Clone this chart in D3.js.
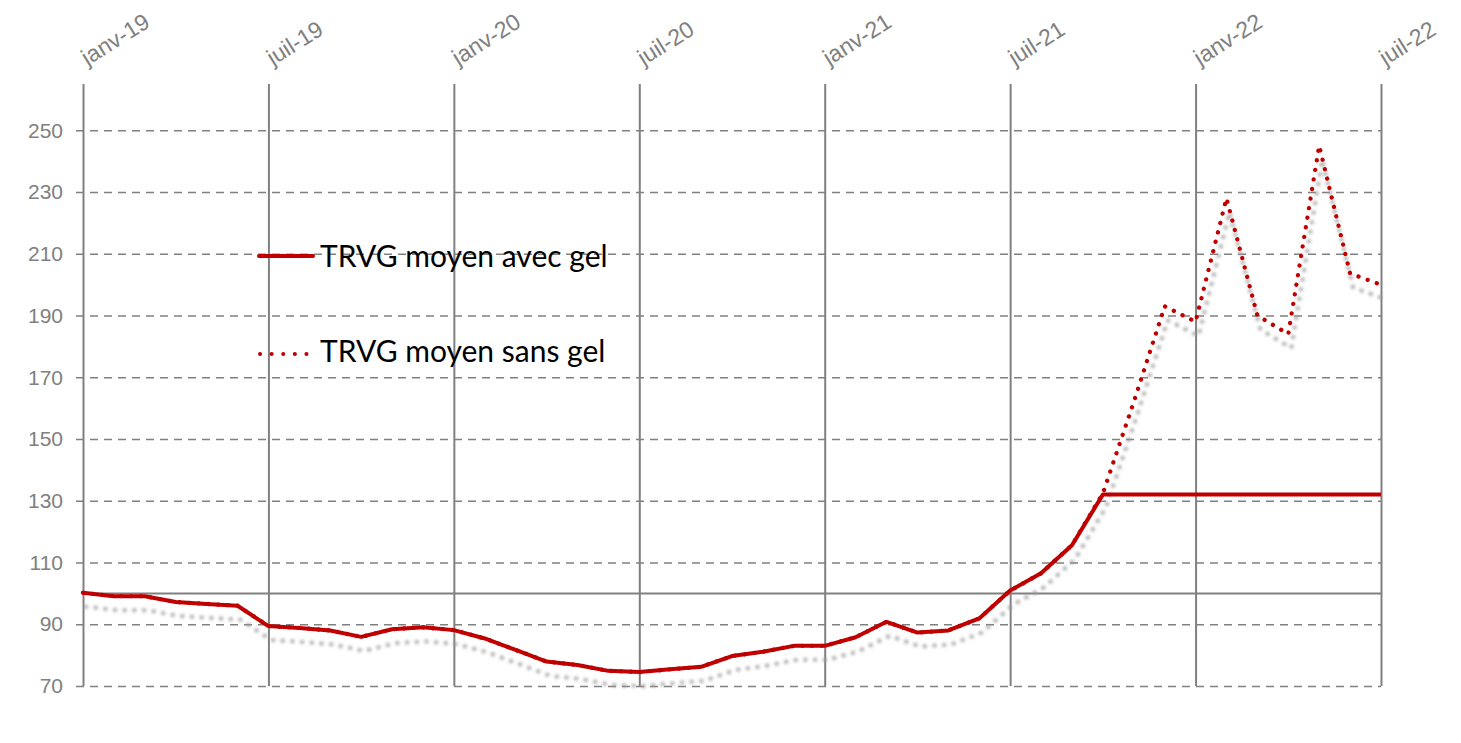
<!DOCTYPE html>
<html><head><meta charset="utf-8">
<script src="https://cdn.jsdelivr.net/npm/d3@7"></script>
<style>
html,body{margin:0;padding:0;background:#fff;}
svg{display:block;}
</style></head>
<body>
<svg id="c" width="1461" height="743"></svg>
<script>
// ---- data ----
const months = ["janv-19","févr-19","mars-19","avr-19","mai-19","juin-19","juil-19","août-19","sept-19","oct-19","nov-19","déc-19",
"janv-20","févr-20","mars-20","avr-20","mai-20","juin-20","juil-20","août-20","sept-20","oct-20","nov-20","déc-20",
"janv-21","févr-21","mars-21","avr-21","mai-21","juin-21","juil-21","août-21","sept-21","oct-21","nov-21","déc-21",
"janv-22","févr-22","mars-22","avr-22","mai-22","juin-22","juil-22"];
const avecGel = [100.2,99.1,99.1,97.2,96.6,96.0,89.4,88.8,88.0,85.9,88.4,89.0,
88.1,85.4,81.7,77.9,76.8,74.9,74.5,75.4,76.2,79.7,81.1,83.0,
83.0,85.8,90.8,87.3,88.0,91.9,100.9,106.5,115.6,132.0,132.0,132.0,
132.0,132.0,132.0,132.0,132.0,132.0,132.0];
const sansGel = [100.2,99.1,99.1,97.2,96.6,96.0,89.4,88.8,88.0,85.9,88.4,89.0,
88.1,85.4,81.7,77.9,76.8,74.9,74.5,75.4,76.2,79.7,81.1,83.0,
83.0,85.8,90.8,87.3,88.0,91.9,100.9,106.5,115.6,132.4,162.0,193.0,
188.0,228.0,190.0,184.0,245.0,203.6,200.0];
const xTickLabels = ["janv-19","juil-19","janv-20","juil-20","janv-21","juil-21","janv-22","juil-22"];
const yTicks = [70,90,110,130,150,170,190,210,230,250];
const seriesNames = ["TRVG moyen avec gel","TRVG moyen sans gel"];

// ---- layout ----
const svg = d3.select("#c");
const pL = 83, pR = 1381, pT = 84, pB = 686;
const x = d3.scaleLinear().domain([0, months.length - 1]).range([pL, pR]);
const y = d3.scaleLinear().domain([70, 265]).range([pB, pT]);
const grey = "#808080", red = "#C00000";

const defs = svg.append("defs");
const f = defs.append("filter").attr("id","shadow").attr("x","-5%").attr("y","-5%").attr("width","110%").attr("height","110%");
f.append("feGaussianBlur").attr("stdDeviation", 1.5);

// horizontal dashed grid
const yAxis = d3.axisLeft(y).tickValues(yTicks).tickSize(0).tickPadding(14).tickFormat(d3.format("d"));
const gy = svg.append("g").attr("transform", `translate(${pL - 7},0)`).call(yAxis);
gy.select(".domain").remove();
gy.selectAll(".tick line").attr("x1", 0).attr("x2", pR - pL + 7)
  .attr("stroke", grey).attr("stroke-width", 1.6).attr("stroke-dasharray", "8 6");
gy.selectAll(".tick text").attr("fill", grey).attr("font-family", "Liberation Sans, Arial, sans-serif")
  .attr("font-size", 21).attr("x", -13);

// vertical lines every 6 months
const xIdx = xTickLabels.map(l => months.indexOf(l));
const xAxis = d3.axisTop(x).tickValues(xIdx).tickSize(0).tickFormat((d) => months[d]);
const gx = svg.append("g").attr("transform", `translate(0,${pT})`).call(xAxis);
gx.select(".domain").remove();
gx.selectAll(".tick line").remove();
gx.selectAll(".tick").append("line").attr("y1", 0).attr("y2", pB - pT)
  .attr("stroke", grey).attr("stroke-width", 2);
gx.selectAll(".tick text").attr("fill", grey).attr("font-family", "Liberation Sans, Arial, sans-serif")
  .attr("font-size", 23).attr("text-anchor", "start").attr("dy", 0)
  .attr("transform", "translate(4,-18) rotate(-32)").attr("y", 0).attr("x", 0);

// solid line at 100
svg.append("line").attr("x1", pL).attr("x2", pR).attr("y1", y(100)).attr("y2", y(100))
  .attr("stroke", grey).attr("stroke-width", 2);

const line = d3.line().x((d, i) => x(i)).y(d => y(d));

// shadow of dotted series
svg.append("path").datum(sansGel).attr("d", line).attr("fill","none")
  .attr("stroke", "#9a9a9a").attr("stroke-width", 4.5).attr("stroke-linecap","round")
  .attr("stroke-dasharray", "0.1 9.6").attr("filter","url(#shadow)")
  .attr("transform","translate(3,14)").attr("opacity", 0.75);

// dotted series
svg.append("path").datum(sansGel).attr("d", line).attr("fill","none")
  .attr("stroke", red).attr("stroke-width", 4.3).attr("stroke-linecap","round")
  .attr("stroke-dasharray", "0.1 9.6");

// solid series
svg.append("path").datum(avecGel).attr("d", line).attr("fill","none")
  .attr("stroke", red).attr("stroke-width", 4).attr("stroke-linejoin","round");

// legend
const lg = svg.append("g");
lg.append("line").attr("x1", 259).attr("x2", 313).attr("y1", 256).attr("y2", 256)
  .attr("stroke", red).attr("stroke-width", 4).attr("stroke-linecap","round");
lg.append("line").attr("x1", 260).attr("x2", 313).attr("y1", 354).attr("y2", 354)
  .attr("stroke", red).attr("stroke-width", 4).attr("stroke-linecap","round").attr("stroke-dasharray","0.1 11.5");
lg.append("text").attr("x", 320).attr("y", 267).text(seriesNames[0])
  .attr("font-family","Lato, Noto Sans, sans-serif").attr("font-size", 30).attr("fill","#000");
lg.append("text").attr("x", 320).attr("y", 362).text(seriesNames[1])
  .attr("font-family","Lato, Noto Sans, sans-serif").attr("font-size", 30).attr("fill","#000");
</script>
</body></html>
